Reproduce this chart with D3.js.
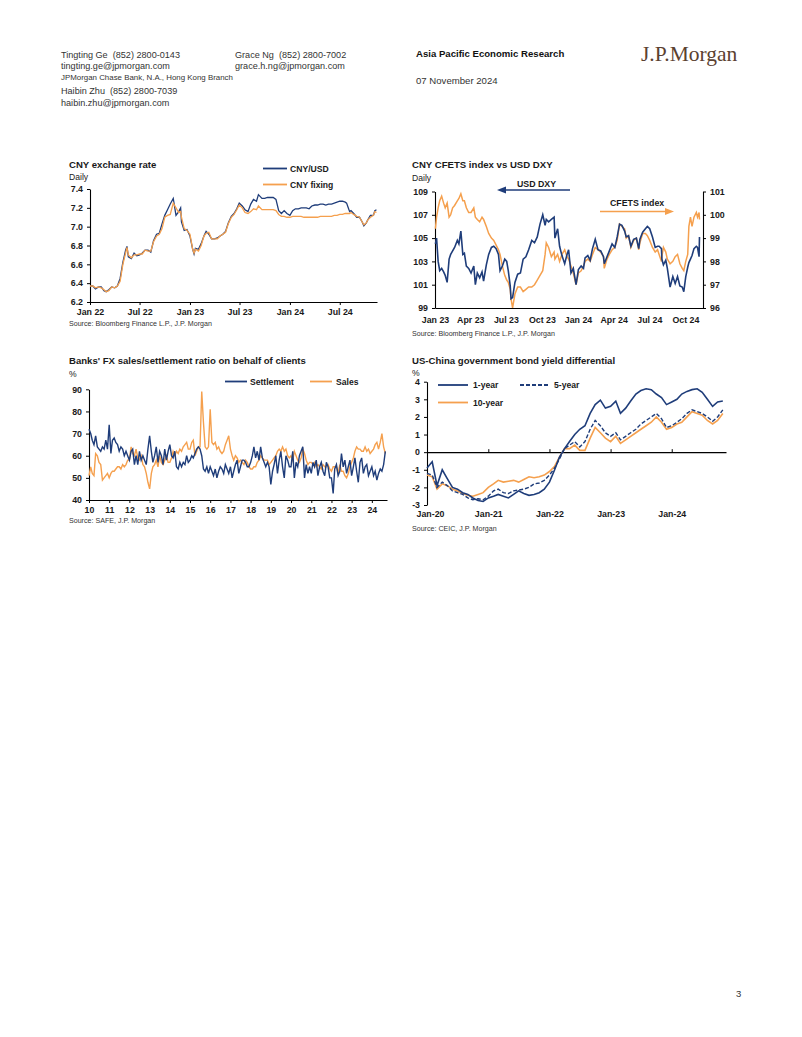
<!DOCTYPE html>
<html><head><meta charset="utf-8">
<script src="https://cdn.jsdelivr.net/npm/d3@7"></script>
<style>
body{margin:0;background:#fff;}
svg{display:block;font-family:'Liberation Sans',Arial,sans-serif;}
text{white-space:pre;}
</style></head><body>
<svg id="page" width="802" height="1037"></svg>
<script>
// ---------- Chart 1: CNY exchange rate ----------
const cnyDates = ["2022-01-01","2022-01-11","2022-01-21","2022-02-01","2022-02-11","2022-02-21","2022-03-01","2022-03-11","2022-03-21","2022-04-01","2022-04-11","2022-04-21","2022-05-01","2022-05-11","2022-05-16","2022-05-21","2022-06-01","2022-06-11","2022-06-21","2022-07-01","2022-07-11","2022-07-21","2022-08-01","2022-08-11","2022-08-21","2022-09-01","2022-09-11","2022-09-21","2022-10-01","2022-10-11","2022-10-21","2022-11-01","2022-11-11","2022-11-21","2022-11-28","2022-12-01","2022-12-11","2022-12-21",
"2023-01-01","2023-01-11","2023-01-16","2023-01-21","2023-02-01","2023-02-11","2023-02-21","2023-03-01","2023-03-11","2023-03-21","2023-04-01","2023-04-11","2023-04-21","2023-05-01","2023-05-11","2023-05-21","2023-06-01","2023-06-11","2023-06-21","2023-06-30","2023-07-11","2023-07-21","2023-08-01","2023-08-11","2023-08-21","2023-09-01","2023-09-08","2023-09-21","2023-10-01","2023-10-11","2023-10-21","2023-11-01","2023-11-11","2023-11-21","2023-12-01","2023-12-11","2023-12-21",
"2024-01-01","2024-01-11","2024-01-21","2024-02-01","2024-02-11","2024-02-21","2024-03-01","2024-03-11","2024-03-21","2024-04-01","2024-04-11","2024-04-21","2024-05-01","2024-05-11","2024-05-21","2024-06-01","2024-06-11","2024-06-21","2024-07-01","2024-07-11","2024-07-21","2024-07-26","2024-08-01","2024-08-06","2024-08-11","2024-08-21","2024-09-01","2024-09-11","2024-09-21","2024-09-27","2024-10-06","2024-10-11","2024-10-21","2024-11-01","2024-11-06","2024-11-12"];
const cnyUsd = [6.37,6.37,6.34,6.36,6.36,6.32,6.31,6.33,6.36,6.35,6.37,6.45,6.62,6.75,6.79,6.68,6.66,6.72,6.69,6.70,6.72,6.75,6.75,6.73,6.85,6.92,6.93,7.03,7.12,7.18,7.24,7.30,7.12,7.16,7.20,7.05,6.96,6.97,
6.90,6.76,6.71,6.77,6.76,6.82,6.90,6.95,6.92,6.87,6.87,6.88,6.90,6.92,6.95,7.04,7.11,7.14,7.19,7.25,7.22,7.18,7.16,7.24,7.29,7.27,7.34,7.30,7.30,7.31,7.31,7.31,7.29,7.17,7.14,7.17,7.14,
7.12,7.17,7.19,7.19,7.20,7.20,7.20,7.19,7.22,7.23,7.23,7.24,7.24,7.23,7.24,7.24,7.25,7.26,7.27,7.27,7.26,7.25,7.20,7.16,7.17,7.14,7.10,7.10,7.05,7.01,7.04,7.07,7.12,7.12,7.17,7.18];
const cnyFixing = [6.37,6.37,6.35,6.36,6.35,6.33,6.31,6.32,6.36,6.35,6.37,6.42,6.60,6.72,6.78,6.70,6.67,6.70,6.70,6.71,6.71,6.75,6.74,6.74,6.84,6.90,6.92,6.98,7.10,7.12,7.13,7.25,7.20,7.15,7.16,7.10,6.98,6.96,
6.92,6.76,6.72,6.76,6.74,6.80,6.90,6.93,6.94,6.87,6.87,6.87,6.90,6.92,6.94,7.03,7.10,7.13,7.18,7.23,7.20,7.15,7.14,7.16,7.19,7.18,7.22,7.18,7.18,7.18,7.18,7.18,7.17,7.13,7.11,7.11,7.10,
7.10,7.11,7.11,7.11,7.11,7.10,7.10,7.10,7.10,7.10,7.10,7.11,7.11,7.11,7.11,7.11,7.12,7.12,7.13,7.13,7.14,7.14,7.14,7.14,7.15,7.13,7.11,7.10,7.05,7.02,7.04,7.07,7.10,7.12,7.16,7.15];
const c1Ticks = ["2022-01-01","2022-07-01","2023-01-01","2023-07-01","2024-01-01","2024-07-01"];
const c1TickLabels = ["Jan 22","Jul 22","Jan 23","Jul 23","Jan 24","Jul 24"];
const c1YTicks = [6.2,6.4,6.6,6.8,7.0,7.2,7.4];

// ---------- Chart 2: CFETS vs DXY ----------
const fxDates = ["2023-01-02","2023-01-05","2023-01-09","2023-01-13","2023-01-18","2023-01-23","2023-01-27",
"2023-02-01","2023-02-06","2023-02-10","2023-02-15","2023-02-20","2023-02-27",
"2023-03-03","2023-03-08","2023-03-13","2023-03-17","2023-03-22","2023-03-28",
"2023-04-03","2023-04-10","2023-04-14","2023-04-19","2023-04-25",
"2023-05-01","2023-05-05","2023-05-12","2023-05-18","2023-05-25","2023-05-31",
"2023-06-06","2023-06-12","2023-06-16","2023-06-22","2023-06-28",
"2023-07-03","2023-07-07","2023-07-12","2023-07-14","2023-07-18","2023-07-24","2023-07-31",
"2023-08-07","2023-08-14","2023-08-21","2023-08-28",
"2023-09-05","2023-09-12","2023-09-19","2023-09-26",
"2023-10-03","2023-10-09","2023-10-12","2023-10-18","2023-10-25",
"2023-11-01","2023-11-03","2023-11-10","2023-11-15","2023-11-21","2023-11-28",
"2023-12-04","2023-12-08","2023-12-14","2023-12-20","2023-12-27",
"2024-01-02","2024-01-09","2024-01-15","2024-01-19","2024-01-26",
"2024-02-01","2024-02-07","2024-02-14","2024-02-21","2024-02-28",
"2024-03-06","2024-03-08","2024-03-15","2024-03-21","2024-03-28",
"2024-04-04","2024-04-10","2024-04-16","2024-04-22","2024-04-29",
"2024-05-03","2024-05-09","2024-05-15","2024-05-22","2024-05-29",
"2024-06-04","2024-06-07","2024-06-14","2024-06-21","2024-06-26",
"2024-07-02","2024-07-09","2024-07-16","2024-07-22","2024-07-26",
"2024-08-01","2024-08-02","2024-08-06","2024-08-12","2024-08-16","2024-08-23","2024-08-30",
"2024-09-05","2024-09-11","2024-09-17","2024-09-23","2024-09-27",
"2024-10-02","2024-10-07","2024-10-10","2024-10-14","2024-10-18","2024-10-23","2024-10-29",
"2024-11-01","2024-11-05","2024-11-06"];
const usdDxy = [104.5,105.0,103.0,102.2,102.4,102.1,101.8,
101.2,103.2,103.6,103.9,104.2,104.8,
104.5,105.6,103.6,103.7,102.6,102.4,
102.0,102.6,101.0,102.0,101.6,
102.1,101.3,102.7,103.6,104.2,104.3,
104.1,103.6,102.2,102.6,103.2,
103.0,102.2,100.9,99.8,99.9,101.2,101.9,
102.0,103.2,103.4,104.0,
104.8,104.6,105.1,106.2,
107.0,106.1,106.6,106.4,106.6,
106.8,105.0,105.8,104.3,103.5,102.8,
103.6,104.0,102.0,102.4,101.0,
102.3,102.6,102.4,103.3,103.5,
103.1,104.1,104.9,104.0,103.9,
103.4,102.8,103.4,103.9,104.5,
104.2,105.1,106.2,106.1,105.6,
105.1,105.2,104.3,104.9,105.0,
104.1,104.9,105.5,105.8,106.0,
105.8,105.1,104.2,104.3,104.3,
104.1,103.2,102.7,103.1,102.4,100.8,101.7,
101.1,101.7,100.9,100.8,100.4,
101.7,102.5,102.9,103.2,103.5,104.1,104.3,
104.2,103.4,105.1];
const cfetsIndex = [99.4,99.9,100.3,100.6,100.8,100.5,100.3,
100.5,99.9,100.0,100.3,100.4,100.6,
100.7,100.9,100.6,100.6,100.3,100.1,
100.1,100.3,99.9,99.8,99.7,
99.9,99.8,99.5,99.2,99.0,98.9,
98.7,98.5,98.3,97.8,97.4,
97.2,97.1,96.8,96.4,96.0,96.6,96.9,
96.9,96.7,96.8,96.9,
96.9,97.0,97.2,97.4,
97.6,98.3,98.8,98.6,98.2,
98.4,98.1,98.3,98.0,98.3,98.5,
98.2,98.1,97.8,97.5,97.0,
97.5,97.6,97.8,98.0,98.1,
98.0,98.3,98.6,98.5,98.4,
98.2,97.7,98.1,98.3,98.5,
98.6,98.9,99.6,99.5,99.4,
99.0,99.1,98.6,98.9,99.0,
98.5,98.8,99.2,99.2,99.1,
98.9,98.6,98.4,98.5,98.3,
98.0,98.2,98.6,98.4,98.1,97.9,98.0,
98.2,98.3,97.9,97.7,97.6,
98.0,98.3,99.5,99.9,99.5,99.9,100.1,
99.9,100.1,99.8];
const c2Ticks = ["2023-01-01","2023-04-01","2023-07-01","2023-10-01","2024-01-01","2024-04-01","2024-07-01","2024-10-01"];
const c2TickLabels = ["Jan 23","Apr 23","Jul 23","Oct 23","Jan 24","Apr 24","Jul 24","Oct 24"];
const c2LeftTicks = [99,101,103,105,107,109];
const c2RightTicks = [96,97,98,99,100,101];

// ---------- Chart 3: Banks' FX sales/settlement ratio (monthly from Jan 2010) ----------
const ratioStart = "2010-01-01";
const settlementRatio = [
72,70,67,65,69,64,63,62,64,63,67,63,
74,61,67,68,66,65,62,64,63,60,62,60,
58,62,63,56,60,56,62,58,60,58,56,63,
69,62,57,60,64,57,62,60,56,63,58,62,
65,60,59,62,55,54,57,55,57,56,60,57,
58,60,59,61,63,64,63,60,54,53,55,52,
55,53,51,54,50,53,55,54,52,56,54,52,
55,50,53,56,58,52,55,58,58,57,55,55,
57,60,64,59,62,58,64,59,57,55,57,55,
47,53,56,60,52,58,62,55,50,60,58,55,
55,62,50,57,55,60,62,64,50,56,52,55,
52,57,55,58,51,55,57,53,51,57,55,50,
50,43,54,56,51,53,61,55,58,52,55,58,
51,55,59,53,48,57,59,52,55,56,51,53,
55,51,53,49,52,54,53,56,62];
const salesRatio = [
51,55,52,51,61,60,57,56,49,50,51,52,
50,52,53,53,54,55,55,54,56,55,56,58,
58,64,61,60,63,59,58,60,56,55,52,48,
45,52,55,56,58,55,60,57,56,58,60,57,
57,59,62,60,62,61,63,62,64,65,66,63,
63,66,67,60,62,64,64,89,75,64,63,64,
81,66,65,66,63,64,62,61,62,65,67,69,
63,60,58,60,59,57,58,57,56,58,57,55,
54,54,55,55,57,58,60,59,58,58,58,56,
57,58,59,60,62,63,62,64,62,63,60,59,
60,58,62,60,58,57,59,63,61,58,56,57,
57,56,57,55,56,55,54,56,55,55,56,54,
53,55,55,55,52,56,53,53,51,50,52,55,
57,59,62,64,63,63,62,62,64,62,63,61,
62,63,65,66,63,66,70,64,61];
const c3TickLabels = ["10","11","12","13","14","15","16","17","18","19","20","21","22","23","24"];
const c3YTicks = [40,50,60,70,80,90];

// ---------- Chart 4: US-China yield differential (monthly from Jan 2020) ----------
const yieldStart = "2020-01-01";
const diff1y = [
-0.9,-0.55,-1.9,-1.0,-1.5,-2.0,-2.1,-2.3,-2.4,-2.6,-2.75,-2.8,
-2.6,-2.5,-2.4,-2.5,-2.6,-2.4,-2.2,-2.35,-2.45,-2.4,-2.3,-2.1,
-1.7,-1.0,-0.3,0.2,0.6,1.0,1.3,1.5,2.2,2.7,2.95,2.5,
2.6,2.9,2.2,2.5,2.9,3.3,3.5,3.6,3.55,3.3,3.1,2.7,
2.85,3.0,3.3,3.45,3.55,3.6,3.4,3.0,2.6,2.85,2.9];
const diff5y = [
-1.2,-1.3,-2.0,-1.7,-1.9,-2.2,-2.3,-2.4,-2.6,-2.7,-2.65,-2.7,
-2.5,-2.2,-2.1,-2.3,-2.35,-2.2,-2.15,-2.1,-2.0,-1.8,-1.75,-1.6,
-1.3,-0.9,-0.4,0.2,0.4,0.6,0.3,0.6,1.3,1.8,1.5,1.1,
0.9,1.1,0.7,0.9,1.1,1.3,1.6,1.8,2.0,2.2,1.9,1.4,
1.5,1.7,1.9,2.2,2.4,2.3,2.2,2.0,1.75,2.0,2.4];
const diff10y = [
-1.3,-1.4,-2.1,-1.8,-1.9,-2.1,-2.2,-2.35,-2.45,-2.5,-2.4,-2.3,
-2.0,-1.8,-1.6,-1.7,-1.65,-1.6,-1.7,-1.55,-1.4,-1.45,-1.4,-1.3,
-1.1,-0.8,-0.3,0.2,0.2,0.4,0.1,0.1,0.8,1.4,1.1,0.8,
0.6,0.9,0.5,0.7,0.9,1.1,1.3,1.5,1.7,2.0,1.7,1.3,
1.4,1.6,1.7,2.0,2.3,2.2,2.1,1.8,1.6,1.8,2.2];
const c4Ticks = ["2020-01-01","2021-01-01","2022-01-01","2023-01-01","2024-01-01"];
const c4TickLabels = ["Jan-20","Jan-21","Jan-22","Jan-23","Jan-24"];
const c4YTicks = [-3,-2,-1,0,1,2,3,4];

// ---------- drawing ----------
const BLUE = "#1f3d7a", ORANGE = "#f5a04e", TXT = "#1a1a1a";
const FONT = "'Liberation Sans', Arial, sans-serif";
const svg = d3.select("#page");
svg.append("rect").attr("width",802).attr("height",1037).attr("fill","#fff");
const P = d3.timeParse("%Y-%m-%d");

function text(x,y,s,opt={}){
  return svg.append("text").attr("x",x).attr("y",y).text(s)
    .attr("font-size",opt.size||9).attr("font-weight",opt.bold?"bold":"normal")
    .attr("fill",opt.fill||TXT).attr("text-anchor",opt.anchor||"start")
    .attr("font-family",opt.family||FONT).style("white-space","pre");
}
function styleAxis(g){
  g.select(".domain").attr("stroke","#000").attr("stroke-width",1.1);
  g.selectAll(".tick line").attr("stroke","#000").attr("stroke-width",1);
  g.selectAll(".tick text").attr("font-size",8.8).attr("font-weight","bold")
    .attr("fill",TXT).attr("font-family",FONT);
}
function legendLine(x1,x2,y,color,dash){
  svg.append("line").attr("x1",x1).attr("x2",x2).attr("y1",y).attr("y2",y)
    .attr("stroke",color).attr("stroke-width",1.8).attr("stroke-dasharray",dash||null);
}

// Header
text(61,57.5,"Tingting Ge  (852) 2800-0143",{size:9.1,fill:"#333"});
text(61,69,"tingting.ge@jpmorgan.com",{size:9.1,fill:"#333"});
text(61,80,"JPMorgan Chase Bank, N.A., Hong Kong Branch",{size:7.9,fill:"#333"});
text(61,93.5,"Haibin Zhu  (852) 2800-7039",{size:9.1,fill:"#333"});
text(61,105.5,"haibin.zhu@jpmorgan.com",{size:9.1,fill:"#333"});
text(235,57.5,"Grace Ng  (852) 2800-7002",{size:9.1,fill:"#333"});
text(235,69,"grace.h.ng@jpmorgan.com",{size:9.1,fill:"#333"});
text(416,57,"Asia Pacific Economic Research",{size:9.6,bold:true,fill:"#111"});
text(416,83.5,"07 November 2024",{size:9.6,fill:"#333"});
text(641,61,"J.P.Morgan",{size:21.5,fill:"#5b4130",family:"'Liberation Serif','Times New Roman',serif"});
text(736,997,"3",{size:9.5,fill:"#333"});

// Chart 1
{
  const x = d3.scaleTime().domain([P("2022-01-01"),P("2024-11-14")]).range([90,377]);
  const y = d3.scaleLinear().domain([6.2,7.4]).range([302,189]);
  text(69,168,"CNY exchange rate",{size:9.6,bold:true});
  text(69,180,"Daily",{size:8.6});
  const gx = svg.append("g").attr("transform","translate(0,302)")
    .call(d3.axisBottom(x).tickValues(c1Ticks.map(P)).tickFormat((d,i)=>c1TickLabels[i]).tickSize(3).tickSizeOuter(0).tickPadding(4));
  styleAxis(gx);
  const gy = svg.append("g").attr("transform","translate(90,0)")
    .call(d3.axisLeft(y).tickValues(c1YTicks).tickFormat(d3.format(".1f")).tickSize(3).tickSizeOuter(0).tickPadding(4));
  styleAxis(gy);
  const dates = cnyDates.map(P);
  const line = d3.line().x((d,i)=>x(dates[i])).y(d=>y(d));
  svg.append("path").datum(cnyUsd).attr("d",line).attr("fill","none").attr("stroke",BLUE).attr("stroke-width",1.3);
  svg.append("path").datum(cnyFixing).attr("d",line).attr("fill","none").attr("stroke",ORANGE).attr("stroke-width",1.3);
  legendLine(263,287,168.5,BLUE);
  text(290,171.5,"CNY/USD",{size:8.6,bold:true});
  legendLine(263,287,184.5,ORANGE);
  text(290,187.5,"CNY fixing",{size:8.6,bold:true});
  text(69,325.5,"Source: Bloomberg Finance L.P., J.P. Morgan",{size:7.1,fill:"#333"});
}

// Chart 2
{
  const x = d3.scaleTime().domain([P("2023-01-01"),P("2024-11-15")]).range([435,703]);
  const yL = d3.scaleLinear().domain([99,109]).range([308,191.5]);
  const yR = d3.scaleLinear().domain([96,101]).range([308,191.5]);
  text(412,168,"CNY CFETS index vs USD DXY",{size:9.6,bold:true});
  text(412,180.5,"Daily",{size:8.6});
  const gx = svg.append("g").attr("transform","translate(0,308)")
    .call(d3.axisBottom(x).tickValues(c2Ticks.map(P)).tickFormat((d,i)=>c2TickLabels[i]).tickSize(0).tickSizeOuter(0).tickPadding(9));
  styleAxis(gx);
  const gl = svg.append("g").attr("transform","translate(435,0)")
    .call(d3.axisLeft(yL).tickValues(c2LeftTicks).tickFormat(d3.format("d")).tickSize(3).tickSizeOuter(0).tickPadding(4));
  styleAxis(gl);
  const gr = svg.append("g").attr("transform","translate(703,0)")
    .call(d3.axisRight(yR).tickValues(c2RightTicks).tickFormat(d3.format("d")).tickSize(3).tickSizeOuter(0).tickPadding(4));
  styleAxis(gr);
  const dates = fxDates.map(P);
  svg.append("path").datum(cfetsIndex).attr("d",d3.line().x((d,i)=>x(dates[i])).y(d=>yR(d)))
    .attr("fill","none").attr("stroke",ORANGE).attr("stroke-width",1.5);
  svg.append("path").datum(usdDxy).attr("d",d3.line().x((d,i)=>x(dates[i])).y(d=>yL(d)))
    .attr("fill","none").attr("stroke",BLUE).attr("stroke-width",1.6);
  // annotations
  text(517,187,"USD DXY",{size:8.8,bold:true});
  svg.append("line").attr("x1",504).attr("x2",570).attr("y1",190).attr("y2",190).attr("stroke",BLUE).attr("stroke-width",1.4);
  svg.append("path").attr("d","M497,190 L506,186.5 L506,193.5 Z").attr("fill",BLUE);
  text(610,205.5,"CFETS index",{size:8.8,bold:true});
  svg.append("line").attr("x1",600).attr("x2",667).attr("y1",211.5).attr("y2",211.5).attr("stroke",ORANGE).attr("stroke-width",1.4);
  svg.append("path").attr("d","M674,211.5 L665,208 L665,215 Z").attr("fill",ORANGE);
  text(412,335.5,"Source: Bloomberg Finance L.P., J.P. Morgan",{size:7.1,fill:"#333"});
}

// Chart 3
{
  const x = d3.scaleTime().domain([P("2010-01-01"),P("2024-10-01")]).range([89,387]);
  const y = d3.scaleLinear().domain([40,90]).range([500,389.3]);
  const s0 = P(ratioStart);
  const md = i => d3.timeMonth.offset(s0,i);
  text(69,364,"Banks' FX sales/settlement ratio on behalf of clients",{size:9.6,bold:true});
  text(69,377,"%",{size:8.6});
  const yearTicks = c3TickLabels.map((l,i)=>d3.timeYear.offset(s0,i));
  const gx = svg.append("g").attr("transform","translate(0,500)")
    .call(d3.axisBottom(x).tickValues(yearTicks).tickFormat((d,i)=>c3TickLabels[i]).tickSize(3).tickSizeOuter(0).tickPadding(4));
  styleAxis(gx);
  const gy = svg.append("g").attr("transform","translate(89,0)")
    .call(d3.axisLeft(y).tickValues(c3YTicks).tickSize(3).tickSizeOuter(0).tickPadding(4));
  styleAxis(gy);
  const line = d3.line().x((d,i)=>x(md(i))).y(d=>y(d));
  svg.append("path").datum(salesRatio).attr("d",line).attr("fill","none").attr("stroke",ORANGE).attr("stroke-width",1.4);
  svg.append("path").datum(settlementRatio).attr("d",line).attr("fill","none").attr("stroke",BLUE).attr("stroke-width",1.4);
  legendLine(225,247,381.5,BLUE);
  text(250,384.5,"Settlement",{size:8.6,bold:true});
  legendLine(310,332,381.5,ORANGE);
  text(336,384.5,"Sales",{size:8.6,bold:true});
  text(69,523,"Source: SAFE, J.P. Morgan",{size:7.1,fill:"#333"});
}

// Chart 4
{
  const x = d3.scaleTime().domain([P("2020-01-01"),P("2024-11-20")]).range([427,726]);
  const y = d3.scaleLinear().domain([-3,4]).range([505,381.7]);
  const s0 = P(yieldStart);
  const md = i => d3.timeMonth.offset(s0,i);
  text(412,364,"US-China government bond yield differential",{size:9.6,bold:true});
  text(412,375.5,"%",{size:8.6});
  const gy = svg.append("g").attr("transform","translate(427,0)")
    .call(d3.axisLeft(y).tickValues(c4YTicks).tickFormat(d=>String(d)).tickSize(3).tickSizeOuter(0).tickPadding(4));
  styleAxis(gy);
  const g0 = svg.append("g").attr("transform",`translate(0,${y(0)})`)
    .call(d3.axisTop(x).tickValues(c4Ticks.map(P)).tickFormat("").tickSize(3).tickSizeOuter(0));
  styleAxis(g0);
  const gb = svg.append("g").attr("transform",`translate(0,${y(-3)})`)
    .call(d3.axisBottom(x).tickValues(c4Ticks.map(P)).tickFormat((d,i)=>c4TickLabels[i]).tickSize(0).tickSizeOuter(0).tickPadding(6));
  styleAxis(gb);
  gb.select(".domain").remove();
  gb.selectAll(".tick").filter((d,i)=>i===0).select("text").attr("dx",3);
  const line = d3.line().x((d,i)=>x(md(i))).y(d=>y(d));
  svg.append("path").datum(diff10y).attr("d",line).attr("fill","none").attr("stroke",ORANGE).attr("stroke-width",1.6);
  svg.append("path").datum(diff5y).attr("d",line).attr("fill","none").attr("stroke",BLUE).attr("stroke-width",1.4).attr("stroke-dasharray","4,2");
  svg.append("path").datum(diff1y).attr("d",line).attr("fill","none").attr("stroke",BLUE).attr("stroke-width",1.6);
  legendLine(438,468,385,BLUE);
  text(473,388,"1-year",{size:8.6,bold:true});
  legendLine(520,550,385,BLUE,"4,2");
  text(554,388,"5-year",{size:8.6,bold:true});
  legendLine(438,468,402.5,ORANGE);
  text(473,405.5,"10-year",{size:8.6,bold:true});
  text(412,530.5,"Source: CEIC, J.P. Morgan",{size:7.1,fill:"#333"});
}
</script></body></html>
